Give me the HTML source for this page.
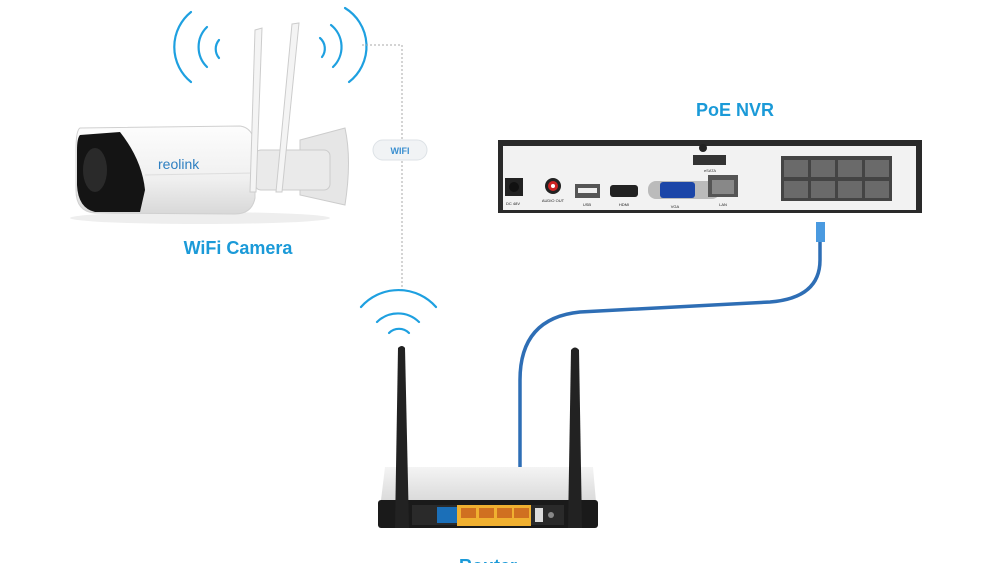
<!DOCTYPE html>
<html><head><meta charset="utf-8"><style>
html,body{margin:0;padding:0;background:#fff;}
svg{display:block;}
text{font-family:"Liberation Sans",Arial,sans-serif;}
</style></head><body>
<svg width="1000" height="563" viewBox="0 0 1000 563" xmlns="http://www.w3.org/2000/svg">
<defs>
<linearGradient id="body" x1="0" y1="0" x2="0" y2="1">
<stop offset="0" stop-color="#fdfdfd"/><stop offset="0.6" stop-color="#f0f0f0"/><stop offset="1" stop-color="#d8d8d8"/></linearGradient>
<linearGradient id="rt" x1="0" y1="0" x2="0" y2="1">
<stop offset="0" stop-color="#f4f4f4"/><stop offset="1" stop-color="#c8c8c8"/></linearGradient>
</defs>
<!-- wifi arcs camera -->
<g fill="none" stroke="#1ea0e0" stroke-width="2.2" stroke-linecap="round">
<path d="M191 12 A45 45 0 0 0 191 82"/>
<path d="M207 27 A28 28 0 0 0 207 67"/>
<path d="M219 40 A14 14 0 0 0 219 58"/>
<path d="M345 8 A45 45 0 0 1 349 82"/>
<path d="M331 25 A28 28 0 0 1 333 67"/>
<path d="M320 38 A14 14 0 0 1 322 57"/>
</g>
<!-- dotted line -->
<path d="M362 45 H402 V292" fill="none" stroke="#aaa" stroke-width="1" stroke-dasharray="2,2"/>
<rect x="373" y="140" width="54" height="20" rx="10" fill="#f1f3f5" stroke="#dde2e6"/>
<text x="400" y="154" font-size="9" font-weight="bold" fill="#3a8fd0" text-anchor="middle">WIFI</text>
<!-- camera -->
<ellipse cx="200" cy="218" rx="130" ry="6" fill="#eee"/>
<path d="M300 140 L345 128 Q352 160 345 205 L300 195 Z" fill="#e6e6e6" stroke="#ccc"/>
<rect x="255" y="150" width="75" height="40" rx="6" fill="#eaeaea" stroke="#ccc"/>
<path d="M80 128 L240 126 Q255 128 255 150 L255 198 Q252 214 235 214 L95 213 Q76 212 76 190 L76 150 Q76 130 80 128 Z" fill="url(#body)" stroke="#d0d0d0"/>
<path d="M80 135 L120 132 Q142 160 145 190 L140 212 L95 212 Q78 208 77 185 L77 150 Q77 138 80 135 Z" fill="#141414"/>
<ellipse cx="95" cy="170" rx="12" ry="22" fill="#2a2a2a"/>
<line x1="145" y1="175" x2="253" y2="173" stroke="#ddd"/>
<text x="158" y="169" font-size="14" fill="#2d7fc1">reolink</text>
<path d="M255 30 L262 28 L256 192 L250 192 Z" fill="#f4f4f4" stroke="#ccc"/>
<path d="M292 24 L299 23 L282 192 L276 192 Z" fill="#f4f4f4" stroke="#ccc"/>
<text x="238" y="254" font-size="18" font-weight="bold" fill="#1b9ad8" text-anchor="middle">WiFi Camera</text>
<!-- NVR -->
<text x="735" y="116" font-size="18" font-weight="bold" fill="#1b9ad8" text-anchor="middle">PoE NVR</text>
<rect x="498" y="140" width="424" height="73" fill="#2a2a2a"/>
<rect x="503" y="146" width="413" height="64" fill="#f2f2f2"/>
<circle cx="703" cy="148" r="4" fill="#222"/>
<rect x="693" y="155" width="33" height="10" fill="#333"/>
<text x="710" y="172" font-size="4" fill="#333" text-anchor="middle">eSATA</text>
<rect x="505" y="178" width="18" height="18" fill="#222"/><circle cx="514" cy="187" r="5" fill="#111"/>
<text x="513" y="205" font-size="4" fill="#222" text-anchor="middle">DC 48V</text>
<circle cx="553" cy="186" r="8" fill="#222"/><circle cx="553" cy="186" r="5" fill="#c22"/><circle cx="553" cy="186" r="2" fill="#fff"/>
<text x="553" y="202" font-size="4" fill="#222" text-anchor="middle">AUDIO OUT</text>
<rect x="575" y="184" width="25" height="14" fill="#555"/><rect x="578" y="188" width="19" height="5" fill="#eee"/>
<text x="587" y="206" font-size="4" fill="#222" text-anchor="middle">USB</text>
<rect x="610" y="185" width="28" height="12" rx="3" fill="#222"/>
<text x="624" y="206" font-size="4" fill="#222" text-anchor="middle">HDMI</text>
<rect x="648" y="181" width="72" height="18" rx="8" fill="#bbb"/><rect x="660" y="182" width="35" height="16" rx="3" fill="#1c46a8"/>
<text x="675" y="208" font-size="4" fill="#222" text-anchor="middle">VGA</text>
<rect x="708" y="175" width="30" height="22" fill="#555"/><rect x="712" y="180" width="22" height="14" fill="#888"/>
<text x="723" y="206" font-size="4" fill="#222" text-anchor="middle">LAN</text>
<rect x="781" y="156" width="111" height="45" fill="#444"/>
<g fill="#6a6a6a">
<rect x="784" y="160" width="24" height="17"/><rect x="811" y="160" width="24" height="17"/><rect x="838" y="160" width="24" height="17"/><rect x="865" y="160" width="24" height="17"/>
<rect x="784" y="181" width="24" height="17"/><rect x="811" y="181" width="24" height="17"/><rect x="838" y="181" width="24" height="17"/><rect x="865" y="181" width="24" height="17"/>
</g>
<!-- cable -->
<path d="M520 478 L520 380 Q520 318 580 312 L770 302 Q820 298 820 260 L820 232" fill="none" stroke="#2e6eb5" stroke-width="3.5"/>
<rect x="816" y="222" width="9" height="20" fill="#4a9ae0"/>
<rect x="516" y="478" width="9" height="24" fill="#4a9ae0"/>
<!-- router wifi -->
<g fill="none" stroke="#1ea0e0" stroke-width="2.2" stroke-linecap="round">
<path d="M361 307 A50 50 0 0 1 436 307"/>
<path d="M377 322 A30 30 0 0 1 419 322"/>
<path d="M389 333 A14 14 0 0 1 409 333"/>
</g>
<!-- router -->
<path d="M385 467 L593 467 L598 525 L378 525 Z" fill="url(#rt)"/>
<rect x="378" y="500" width="220" height="28" rx="3" fill="#1a1a1a"/>
<rect x="412" y="505" width="152" height="20" fill="#2a2a2a"/>
<rect x="437" y="507" width="20" height="16" fill="#1b6fb8"/>
<rect x="457" y="505" width="74" height="21" fill="#f0b030"/>
<g fill="#d07020"><rect x="461" y="508" width="15" height="10"/><rect x="479" y="508" width="15" height="10"/><rect x="497" y="508" width="15" height="10"/><rect x="514" y="508" width="15" height="10"/></g>
<rect x="535" y="508" width="8" height="14" fill="#ddd"/>
<circle cx="551" cy="515" r="3" fill="#888"/>
<path d="M398 348 Q402 344 405 348 L409 528 L395 528 Z" fill="#222"/>
<path d="M571 350 Q575 345 579 350 L582 528 L568 528 Z" fill="#222"/>
<text x="488" y="572" font-size="18" font-weight="bold" fill="#1b9ad8" text-anchor="middle">Router</text>
</svg>
</body></html>
